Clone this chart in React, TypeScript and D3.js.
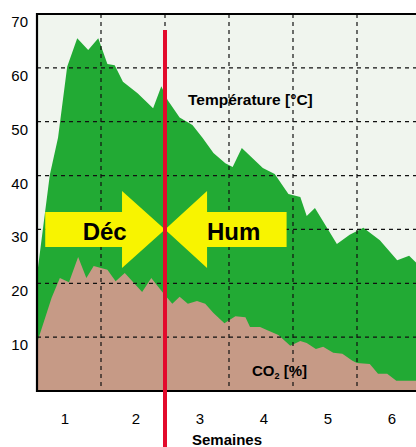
import React, { useRef, useEffect } from 'react'
import * as d3 from 'd3'

// jours depuis le debut (x) et temperature en degres C
const joursTemp = [0, 1.4, 2.3, 3.3, 4.4, 5.6, 6.7, 7.7, 8.5, 9.4, 11.0, 12.7, 13.6, 14.3, 15.6, 17.0, 18.1, 19.3, 20.6, 21.4, 22.4, 24.7, 26.0, 27.5, 28.8, 29.5, 30.4, 32.8, 34.2, 35.7, 37.5, 39.4, 40.7, 41.5]
const temperature = [21.5, 40.1, 47.0, 60.2, 65.5, 63.3, 65.5, 60.7, 60.5, 57.4, 55.3, 52.5, 56.6, 54.0, 50.8, 49.4, 47.0, 44.2, 42.3, 41.6, 45.1, 41.4, 40.3, 36.6, 36.0, 32.5, 34.0, 27.3, 29.0, 30.3, 28.0, 24.3, 25.1, 23.8]

// jours et CO2 en %
const joursCo2 = [0, 1.6, 2.5, 3.5, 4.5, 5.4, 6.2, 7.1, 7.7, 8.6, 9.6, 11.5, 12.5, 13.8, 14.8, 15.6, 16.5, 17.5, 18.4, 19.3, 20.5, 21.7, 22.8, 23.3, 24.4, 25.2, 26.4, 27.7, 28.8, 29.5, 30.5, 31.3, 32.4, 33.4, 34.5, 35.0, 36.4, 37.3, 38.3, 39.3, 41.5]
const co2 = [8.9, 17.3, 21.0, 20.2, 24.9, 21.0, 23.2, 22.8, 22.5, 20.4, 21.9, 18.4, 21.0, 18.2, 16.2, 17.5, 16.2, 16.7, 16.2, 14.5, 12.6, 13.9, 13.7, 11.9, 11.9, 11.3, 10.4, 8.4, 9.3, 8.9, 7.8, 8.2, 7.1, 6.9, 5.6, 5.2, 5.0, 3.2, 3.2, 1.9, 1.9]

const semaines = ['1', '2', '3', '4', '5', '6']
const yTicks = [10, 20, 30, 40, 50, 60, 70]
const yGrid = [10, 20, 30, 40, 50, 60]

const App = () => {
    const svgRef = useRef<SVGSVGElement>(null)

    useEffect(() => {
        const svg = d3.select(svgRef.current)
        svg.selectAll('*').remove()

        const margin = { top: 14, left: 37, bottom: 391 }
        const x = d3.scaleLinear().domain([0, 42]).range([margin.left, margin.left + 384])
        const y = d3.scaleLinear().domain([0, 70]).range([margin.bottom, margin.top])

        //plot background
        svg.append('rect')
            .attr('x', x(0))
            .attr('y', y(70))
            .attr('width', x(42) - x(0))
            .attr('height', y(0) - y(70))
            .attr('fill', '#f0f5ee')

        const area = (xs: number[], vs: number[]) =>
            d3.area<number>()
                .x((d, i) => x(xs[i]))
                .y0(y(0))
                .y1((d) => y(d))(vs)

        svg.append('path').attr('d', area(joursTemp, temperature)).attr('fill', '#22aa34')
        svg.append('path').attr('d', area(joursCo2, co2)).attr('fill', '#c69a86')

        //grid
        const grid = svg.append('g').attr('stroke', '#111').attr('stroke-width', 1.2).attr('stroke-dasharray', '4,4')
        yGrid.forEach((v) => {
            grid.append('line').attr('x1', x(0)).attr('x2', x(42)).attr('y1', y(v)).attr('y2', y(v))
        })
        ;[7, 14, 21, 28, 35].forEach((d) => {
            grid.append('line').attr('x1', x(d)).attr('x2', x(d)).attr('y1', y(70)).attr('y2', y(0))
        })

        //frame
        svg.append('path')
            .attr('d', `M${x(42)},${y(70)}H${x(0)}V${y(0)}H${x(42)}`)
            .attr('fill', 'none')
            .attr('stroke', '#000')
            .attr('stroke-width', 2.2)

        //arrows
        const tip = x(14)
        const cy = y(30)
        const arrows = [
            { label: 'Déc', back: x(0.9), neck: x(9.3), tx: x(7.4) },
            { label: 'Hum', back: x(27.3), neck: x(18.6), tx: x(21.5) },
        ]
        arrows.forEach((a) => {
            const pts = [
                [a.back, cy - 17.5],
                [a.neck, cy - 17.5],
                [a.neck, cy - 38.5],
                [tip, cy],
                [a.neck, cy + 38.5],
                [a.neck, cy + 17.5],
                [a.back, cy + 17.5],
            ]
            svg.append('path')
                .attr('d', 'M' + pts.map((p) => p.join(',')).join('L') + 'Z')
                .attr('fill', '#f8f400')
            svg.append('text')
                .attr('x', a.tx)
                .attr('y', cy + 11)
                .attr('text-anchor', 'middle')
                .style('font', 'bold 24px "Liberation Sans", Arial, sans-serif')
                .text(a.label)
        })

        //red line
        svg.append('line')
            .attr('x1', tip)
            .attr('x2', tip)
            .attr('y1', 30)
            .attr('y2', 447)
            .attr('stroke', '#e30a2c')
            .attr('stroke-width', 4)

        const font = '"Liberation Sans", Arial, sans-serif'

        //y labels
        svg.selectAll('.ylab')
            .data(yTicks)
            .enter()
            .append('text')
            .attr('x', 28)
            .attr('y', (d) => y(d) + 13)
            .attr('text-anchor', 'end')
            .style('font', `15px ${font}`)
            .text((d) => d)

        //week labels
        svg.selectAll('.xlab')
            .data(semaines)
            .enter()
            .append('text')
            .attr('x', (d, i) => x(7 * (i + 1) - 3.5) + (i === 0 ? -4 : 3))
            .attr('y', 424)
            .attr('text-anchor', 'middle')
            .style('font', `15px ${font}`)
            .text((d) => d)

        svg.append('text')
            .attr('x', 227)
            .attr('y', 445)
            .attr('text-anchor', 'middle')
            .style('font', `bold 15px ${font}`)
            .text('Semaines')

        svg.append('text')
            .attr('x', 188)
            .attr('y', 105)
            .style('font', `bold 15.5px ${font}`)
            .text('Température [°C]')

        const co2Label = svg.append('text')
            .attr('x', 252)
            .attr('y', 376)
            .style('font', `bold 15px ${font}`)
        co2Label.append('tspan').text('CO')
        co2Label.append('tspan').attr('font-size', '9px').attr('dy', 3).text('2')
        co2Label.append('tspan').attr('dy', -3).text(' [%]')
    }, [])

    return (
        <svg
            ref={svgRef}
            width={416}
            height={447}
            style={{ position: 'absolute', left: 0, top: 0, background: '#fff' }}
        />
    )
}

export default App
